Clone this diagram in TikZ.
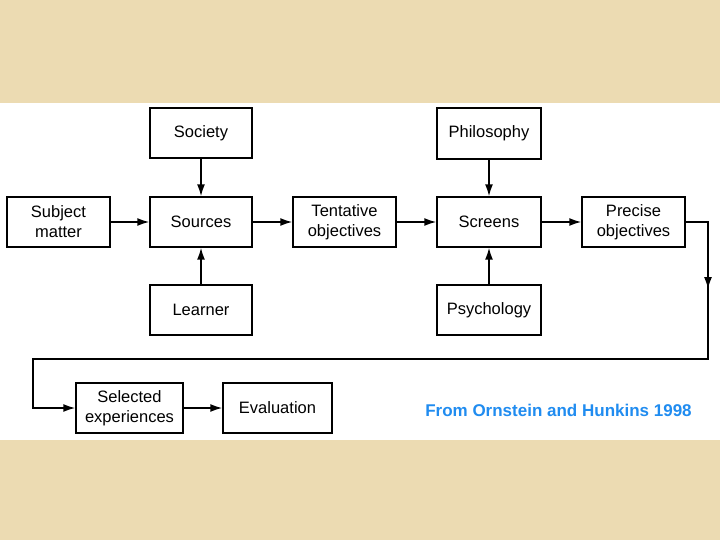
\documentclass[tikz,border=0pt]{standalone}
\usepackage{fontspec}
\setmainfont{Liberation Sans}
\usetikzlibrary{arrows.meta}
\definecolor{beige}{RGB}{236,219,178}
\definecolor{credblue}{RGB}{32,140,240}
\tikzset{
  box/.style={draw=black, line width=1.4pt, fill=white, inner sep=0pt, align=center,
    font=\fontsize{16.5}{20}\selectfont},
  arr/.style={line width=1.6pt, -{Latex[length=12pt,width=8pt]}},
  lin/.style={line width=1.6pt}
}
\begin{document}
\begin{tikzpicture}[x=1pt,y=-1pt]
\useasboundingbox (0,0) rectangle (720,540);
\fill[beige] (0,0) rectangle (720,540);
\fill[white] (0,103) rectangle (720,440);
% nodes
\node[box, minimum width=102pt, minimum height=50pt] (soc) at (201,133) {Society};
\node[box, minimum width=103pt, minimum height=50pt] (sub) at (58.5,222) {Subject\\matter};
\node[box, minimum width=102pt, minimum height=50pt] (src) at (201,222) {Sources};
\node[box, minimum width=103pt, minimum height=50pt] (ten) at (344.5,222) {Tentative\\objectives};
\node[box, minimum width=104pt, minimum height=51pt] (phi) at (489,133.5) {Philosophy};
\node[box, minimum width=104pt, minimum height=50pt] (scr) at (489,222) {Screens};
\node[box, minimum width=103pt, minimum height=50pt] (pre) at (633.5,222) {Precise\\objectives};
\node[box, minimum width=102pt, minimum height=50pt] (lea) at (201,310) {Learner};
\node[box, minimum width=104pt, minimum height=50pt] (psy) at (489,310) {Psychology};
\node[box, minimum width=107pt, minimum height=50pt] (sel) at (129.5,408) {Selected\\experiences};
\node[box, minimum width=109pt, minimum height=50pt] (eva) at (277.5,408) {Evaluation};
\node[text=credblue, font=\fontsize{17}{20}\selectfont\bfseries, inner sep=0pt] (cred) at (558.5,410) {From Ornstein and Hunkins 1998};
% connectors
\draw[arr] (sub) -- (src);
\draw[arr] (src) -- (ten);
\draw[arr] (ten) -- (scr);
\draw[arr] (scr) -- (pre);
\draw[arr] (soc) -- (src);
\draw[arr] (lea) -- (src);
\draw[arr] (phi) -- (scr);
\draw[arr] (psy) -- (scr);
\draw[arr] (sel) -- (eva);
\coordinate (c1) at (708,222);
\coordinate (cm) at (708,289);
\coordinate (c2) at (708,359);
\coordinate (c3) at (33,359);
\draw[arr] (pre.east) -- (c1) -- (c2) -- (c3) |- (sel.west);
\draw[arr] (c1) -- (cm);
\end{tikzpicture}
\end{document}
